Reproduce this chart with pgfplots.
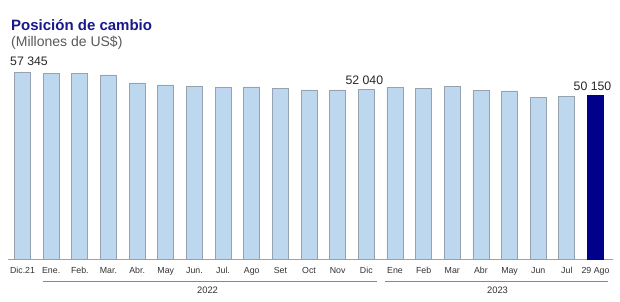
\documentclass[border=0pt]{standalone}
\usepackage{fontspec}
\setmainfont{Liberation Sans}
\usepackage{pgfplots}
\pgfplotsset{compat=1.18}
\definecolor{barfill}{RGB}{189,215,238}
\definecolor{baredge}{RGB}{150,162,176}
\definecolor{navybar}{RGB}{0,0,139}
\definecolor{titleblue}{RGB}{25,25,140}
\definecolor{subgray}{RGB}{89,89,89}
\definecolor{axisgray}{RGB}{155,162,172}
\definecolor{brk}{RGB}{120,138,165}
\definecolor{txt}{RGB}{50,50,50}
\begin{document}
\begin{tikzpicture}[x=1pt,y=1pt]
\path[use as bounding box] (0,0) rectangle (620,301);
\begin{axis}[
  at={(8.2pt,41.7pt)}, anchor=south west,
  scale only axis, width=604.5pt, height=195.9pt,
  xmin=-0.5, xmax=20.6, ymin=0, ymax=60000,
  axis x line*=bottom, axis y line=none,
  x axis line style={axisgray, line width=1pt},
  major tick length=0pt,
  xtick={0,...,20},
  xticklabels={Dic.21,Ene.,Feb.,Mar.,Abr.,May,Jun.,Jul.,Ago,Set,Oct,Nov,Dic,Ene,Feb,Mar,Abr,May,Jun,Jul,29 Ago},
  xticklabel style={font=\fontsize{8.8}{10}\selectfont, text=txt, anchor=base, yshift=-13.8pt},
  ybar, bar width=16pt, bar shift=0pt,
  clip=false,
]
\addplot[fill=barfill, draw=baredge, line width=0.8pt] coordinates {
(0,57345)(1,57000)(2,56850)(3,56450)(4,54000)(5,53390)(6,52870)(7,52560)
(8,52780)(9,52380)(10,51860)(11,51860)(12,52040)(13,52560)(14,52380)
(15,52990)(16,51760)(17,51550)(18,49620)(19,49930)};
\addplot[fill=navybar, draw=navybar, line width=0.8pt] coordinates {(20,50150)};
\node[anchor=south, inner sep=0pt, font=\fontsize{12.3}{14}\selectfont, text=black!85, xshift=6.5pt, yshift=6pt] at (axis cs:0,57345) {57 345};
\node[anchor=south, inner sep=0pt, font=\fontsize{12.3}{14}\selectfont, text=black!85, xshift=-2pt, yshift=5pt] at (axis cs:12,52040) {52 040};
\node[anchor=south, inner sep=0pt, font=\fontsize{12.3}{14}\selectfont, text=black!85, xshift=-3pt, yshift=4.6pt] at (axis cs:20,50150) {50 150};
\end{axis}
\node[anchor=base west, inner sep=0pt, font=\fontsize{15}{18}\selectfont\bfseries, text=titleblue] at (11,270.3) {Posición de cambio};
\node[anchor=base west, inner sep=0pt, font=\fontsize{14}{16}\selectfont, text=subgray] at (11,254.3) {(Millones de US\$)};
\draw[brk, line width=1pt] (43,19.3) -- (377,19.3);
\draw[brk, line width=1pt] (385,19.3) -- (608,19.3);
\node[anchor=base, inner sep=0pt, font=\fontsize{9.4}{11}\selectfont, text=txt] at (207.5,7.6) {2022};
\node[anchor=base, inner sep=0pt, font=\fontsize{9.4}{11}\selectfont, text=txt] at (497.5,7.6) {2023};
\end{tikzpicture}
\end{document}
